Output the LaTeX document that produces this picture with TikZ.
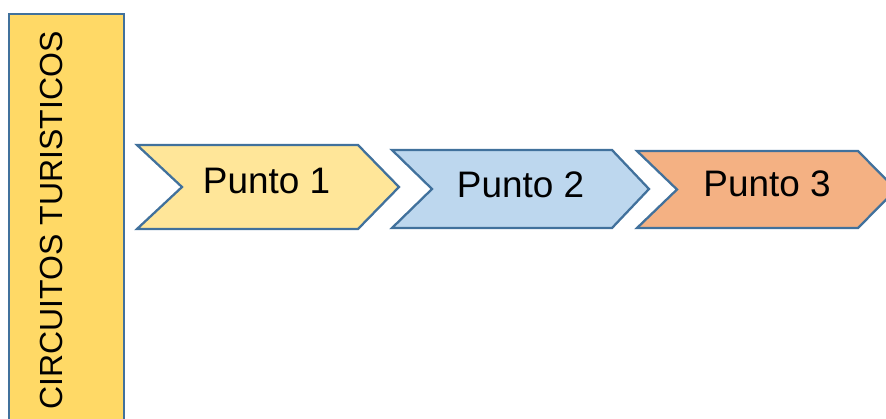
\documentclass[tikz,border=0pt]{standalone}
\usepackage{fontspec}
\setmainfont{Liberation Sans}
\definecolor{borde}{RGB}{65,113,156}
\definecolor{barra}{RGB}{255,217,102}
\definecolor{puntoA}{RGB}{255,230,153}
\definecolor{puntoB}{RGB}{189,215,238}
\definecolor{puntoC}{RGB}{244,177,131}
\begin{document}
\begin{tikzpicture}[x=0.02cm,y=-0.02cm,line join=miter]
		\tikzset{chevron/.style={draw=borde,line width=1.3pt},
			rotulo/.style={font=\fontsize{21}{25}\selectfont,anchor=base}}
		\clip (0,0) rectangle (886,419);
		\draw[chevron,fill=barra] (9,14) rectangle (124,440);
		\node[rotate=90,anchor=base,font=\fontsize{18.2}{22}\selectfont] (titulo) at (62,220.5) {CIRCUITOS TURISTICOS};
		% izquierda/muesca/hombro/punta/arriba/abajo/color/numero/texto
		\foreach \l/\m/\r/\p/\ya/\yb/\col/\k/\tx/\ty in {
			137/182/358/399/145/229/puntoA/1/266.5/193,
			392/432/612/649/150/228/puntoB/2/520.5/197,
			637/677/858/896/151/228/puntoC/3/767/196}
		{
			\draw[chevron,fill=\col] (\l,\ya)--(\r,\ya)--(\p,{(\ya+\yb)/2})--(\r,\yb)--(\l,\yb)--(\m,{(\ya+\yb)/2})--cycle;
			\node[rotulo] (punto\k) at (\tx,\ty) {Punto \k};
		}
\end{tikzpicture}
\end{document}
